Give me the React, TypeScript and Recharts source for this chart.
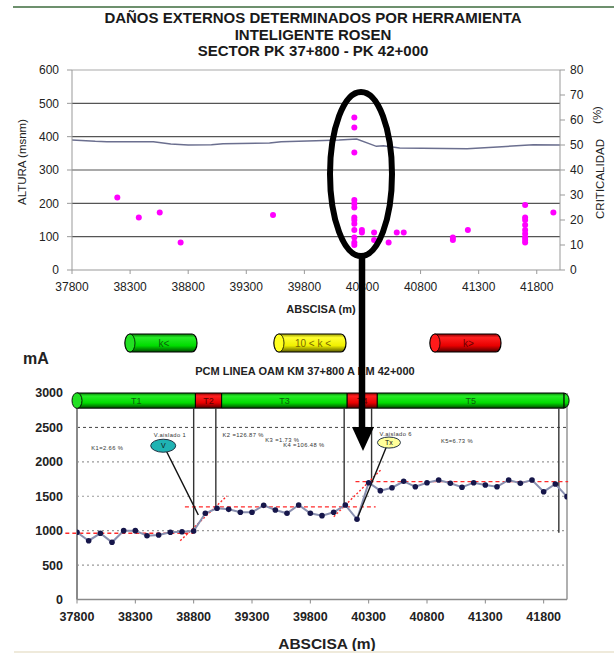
import React from 'react';
import {
  ComposedChart, LineChart, Line, Scatter, XAxis, YAxis,
  ReferenceLine, ReferenceArea, ReferenceDot,
} from 'recharts';

const FONT = '"Liberation Sans", Arial, Helvetica, sans-serif';

// ejes
const abscisaTicks = [37800, 38300, 38800, 39300, 39800, 40300, 40800, 41300, 41800];
const alturaTicks = [0, 100, 200, 300, 400, 500, 600];
const alturaGrid = [100, 200, 300, 400, 500];
const criticalidadTicks = [0, 10, 20, 30, 40, 50, 60, 70, 80];
const corrienteTicks = [0, 500, 1000, 1500, 2000, 2500, 3000];
const corrienteGrid = [500, 1000, 1500, 2000];

// perfil de altura (msnm)
const perfilAbscisa = [37800, 38000, 38100, 38500, 38650, 38800, 39000, 39100, 39500, 39600, 39900, 40100, 40250, 40420, 40480, 40620, 41200, 41500, 41770, 42000];
const perfilAltura = [390, 386, 385, 385, 378, 375, 376, 379, 381, 385, 388, 390, 393, 371, 373, 366, 364, 370, 376, 375];

// daños ROSEN (criticalidad %)
const danoAbscisa = [38190, 38375, 38555, 38735, 39530,
  40230, 40230, 40230, 40230, 40230, 40230, 40230, 40230, 40230, 40230, 40230, 40230, 40230,
  40295, 40295, 40400, 40400, 40525, 40595, 40655, 41078, 41078, 41207,
  41700, 41700, 41700, 41700, 41700, 41700, 41700, 41700, 41700, 41943];
const danoCriticalidad = [29, 21, 23, 11, 22,
  61, 57, 47, 28, 26.5, 25, 21, 20, 18.5, 16, 13, 11, 10,
  16, 15, 15, 12, 11, 15, 15, 13, 12, 16,
  26, 21, 20, 18, 16, 14.5, 13, 12, 11, 23];

// PCM (mA)
const pcmAbscisa = [37800, 37900, 38000, 38100, 38200, 38300, 38400, 38500, 38600, 38700, 38800, 38900, 39000, 39100, 39200, 39300, 39400, 39500, 39600, 39700, 39800, 39900, 40000, 40100, 40200, 40300, 40400, 40500, 40600, 40700, 40800, 40900, 41000, 41100, 41200, 41300, 41400, 41500, 41600, 41700, 41800, 41900, 42000];
const pcmCorriente = [976, 854, 962, 831, 1000, 1000, 927, 937, 976, 985, 995, 1252, 1325, 1310, 1267, 1267, 1368, 1300, 1252, 1373, 1252, 1218, 1267, 1373, 1165, 1697, 1581, 1624, 1717, 1639, 1697, 1736, 1688, 1630, 1697, 1663, 1639, 1736, 1688, 1736, 1566, 1678, 1494];

// tramos
const tramoLabel = ['T1', 'T2', 'T3', 'T4', 'T5'];
const tramoDesde = [37800, 38815, 39040, 40116, 40374];
const tramoHasta = [38815, 39040, 40116, 40374, 41975];
const tramoAlto = [false, true, false, true, false];
const barraBase = 2780;
const barraTope = 3000;

// cortes verticales
const corteAbscisa = [38800, 38990, 40090, 40325, 41930];
const corteHasta = [985, 1340, 1373, 1697, 970];

// tendencias
const tendDesdeX = [37700, 38685, 38725, 40001, 40187];
const tendDesdeY = [962, 854, 1345, 1203, 1712];
const tendHastaX = [38800, 39085, 40360, 40403, 42010];
const tendHastaY = [962, 1504, 1345, 1881, 1712];

// notas
const notaTexto = ['K1=2.66 %', 'V.aislado 1', 'K2 =126.87 %', 'K3 =1.73 %', 'K4 =106.48 %', 'V.aislado 6', 'K5=6.73 %'];
const notaAbscisa = [38060, 38597, 39225, 39560, 39745, 40532, 41057];
const notaCorriente = [2201, 2395, 2390, 2317, 2244, 2410, 2303];

// marcas
const marcaTexto = ['V', 'Tx'];
const marcaAbscisa = [38539, 40474];
const marcaCorriente = [2234, 2280];
const marcaColor = ['#1fb3b3', '#ffff9a'];
const punteroDesdeX = [38569, 40454];
const punteroDesdeY = [2147, 2225];
const punteroHastaX = [38840, 40208];
const punteroHastaY = [1228, 1203];

const perfil = perfilAbscisa.map((x, i) => ({ x, h: perfilAltura[i] }));
const danos = danoAbscisa.map((x, i) => ({ x, c: danoCriticalidad[i] }));
const pcm = pcmAbscisa.map((x, i) => ({ x, mA: pcmCorriente[i] }));

function Cylinder({ x, y, w, h, grad, cap, text, color }: any) {
  return (
    <g>
      <rect x={x} y={y} width={w} height={h} rx={5} ry={h / 2} fill={`url(#${grad})`} stroke="#000" strokeWidth={1.2} />
      <ellipse cx={x + 5} cy={y + h / 2} rx={5} ry={h / 2} fill={cap} stroke="#000" strokeWidth={0.8} />
      <text x={x + w / 2 + 3} y={y + h / 2 + 3.5} textAnchor="middle" fontSize={10} fill={color} fontFamily={FONT}>{text}</text>
    </g>
  );
}

export default function App() {
  const tickTop = { fontSize: 12, fill: '#222', fontFamily: FONT };
  const tickBot = { fontSize: 12.5, fill: '#222', fontFamily: FONT, fontWeight: 'bold' };
  return (
    <div style={{ position: 'absolute', left: 0, top: 0, width: 614, height: 653, background: '#fff', overflow: 'hidden' }}>
      <svg width={0} height={0} style={{ position: 'absolute' }}>
        <defs>
          <linearGradient id="gGreen" x1="0" y1="0" x2="0" y2="1">
            <stop offset="0" stopColor="#067a06" />
            <stop offset="0.2" stopColor="#27ec27" />
            <stop offset="0.65" stopColor="#00dc00" />
            <stop offset="1" stopColor="#004a00" />
          </linearGradient>
          <linearGradient id="gRed" x1="0" y1="0" x2="0" y2="1">
            <stop offset="0" stopColor="#8a0000" />
            <stop offset="0.2" stopColor="#ff2020" />
            <stop offset="0.65" stopColor="#e80000" />
            <stop offset="1" stopColor="#500000" />
          </linearGradient>
          <linearGradient id="gYellow" x1="0" y1="0" x2="0" y2="1">
            <stop offset="0" stopColor="#9a9a00" />
            <stop offset="0.2" stopColor="#ffff30" />
            <stop offset="0.65" stopColor="#f0f000" />
            <stop offset="1" stopColor="#5a5a00" />
          </linearGradient>
        </defs>
      </svg>

      <div style={{ position: 'absolute', left: 0, top: 0 }}>
        <ComposedChart width={614} height={320} margin={{ top: 70, right: 0, bottom: 0, left: 0 }}>
          <XAxis dataKey="x" type="number" domain={[37800, 42000]} ticks={abscisaTicks} interval={0}
            allowDataOverflow height={50} tick={tickTop} tickSize={4} tickMargin={8}
            axisLine={{ stroke: '#999' }} tickLine={{ stroke: '#999' }} />
          <YAxis yAxisId="left" domain={[0, 600]} ticks={alturaTicks} interval={0} width={72}
            tick={tickTop} tickSize={5} tickMargin={8} axisLine={{ stroke: '#999' }} tickLine={{ stroke: '#999' }} />
          <YAxis yAxisId="right" orientation="right" domain={[0, 80]} ticks={criticalidadTicks} interval={0} width={54}
            tick={tickTop} tickSize={5} tickMargin={5} axisLine={{ stroke: '#999' }} tickLine={{ stroke: '#999' }} />
          {alturaGrid.map((v) => (
            <ReferenceLine key={`g${v}`} yAxisId="left" y={v} stroke="#555" strokeWidth={1.2} />
          ))}
          <ReferenceLine yAxisId="left" y={600} stroke="#aaa" strokeWidth={1.2} />
          <Line yAxisId="left" data={perfil} dataKey="h" type="linear" stroke="#6b6f8f" strokeWidth={1.5}
            dot={false} isAnimationActive={false} />
          <Scatter yAxisId="right" data={danos} dataKey="c" isAnimationActive={false}
            shape={(p: any) => <circle cx={p.cx} cy={p.cy} r={3} fill="#ff00ff" />} />
        </ComposedChart>
      </div>

      <div style={{ position: 'absolute', left: 0, top: 380 }}>
        <LineChart width={614} height={273} data={pcm} margin={{ top: 13, right: 47, bottom: 0, left: 0 }}>
          <XAxis dataKey="x" type="number" domain={[37800, 42000]} ticks={abscisaTicks} interval={0}
            allowDataOverflow height={53.5} tick={tickBot} tickSize={4} tickMargin={9}
            axisLine={{ stroke: '#8a8a8a', strokeWidth: 1.5 }} tickLine={{ stroke: '#8a8a8a' }} />
          <YAxis domain={[0, 3000]} ticks={corrienteTicks} interval={0} width={77}
            tick={tickBot} tickSize={4} tickMargin={10}
            axisLine={{ stroke: '#8a8a8a', strokeWidth: 2 }} tickLine={false} />
          {corrienteGrid.map((v) => (
            <ReferenceLine key={`c${v}`} y={v} stroke="#9a9a9a" strokeWidth={1.2} strokeDasharray="2 3" />
          ))}
          <ReferenceLine y={2500} stroke="#444" strokeWidth={1} strokeDasharray="3 3" />
          <ReferenceLine x={42000} stroke="#b0b0b0" strokeWidth={2} />

          {corteAbscisa.map((x, i) => (
            <ReferenceLine key={`v${i}`} segment={[{ x, y: barraBase }, { x, y: corteHasta[i] }]}
              stroke="#333" strokeWidth={1.4} />
          ))}
          <ReferenceLine segment={[{ x: 37800, y: barraBase }, { x: 37800, y: 0 }]} stroke="#555" strokeWidth={1} />

          {tendDesdeX.map((x, i) => (
            <ReferenceLine key={`t${i}`} ifOverflow="visible"
              segment={[{ x, y: tendDesdeY[i] }, { x: tendHastaX[i], y: tendHastaY[i] }]}
              stroke="#ff2a2a" strokeWidth={1.4} strokeDasharray={i % 2 === 1 ? '2 2' : '4 3'} />
          ))}

          <Line dataKey="mA" type="linear" stroke="#8a90b0" strokeWidth={2} isAnimationActive={false}
            dot={(p: any) => <circle key={`d${p.index}`} cx={p.cx} cy={p.cy} r={2.8} fill="#16164a" />} />

          {punteroDesdeX.map((x, i) => (
            <ReferenceLine key={`p${i}`}
              segment={[{ x, y: punteroDesdeY[i] }, { x: punteroHastaX[i], y: punteroHastaY[i] }]}
              stroke="#111" strokeWidth={1.4} />
          ))}
          {marcaTexto.map((t, i) => (
            <ReferenceDot key={`m${i}`} x={marcaAbscisa[i]} y={marcaCorriente[i]}
              shape={(p: any) => (
                <g>
                  <ellipse cx={p.cx} cy={p.cy} rx={i === 0 ? 12.5 : 11.5} ry={i === 0 ? 6.5 : 5.5}
                    fill={marcaColor[i]} stroke="#234" strokeWidth={1} />
                  <text x={p.cx} y={p.cy + 2.5} textAnchor="middle" fontSize={7} fill="#111" fontFamily={FONT}>{t}</text>
                </g>
              )} />
          ))}
          {notaTexto.map((t, i) => (
            <ReferenceDot key={`n${i}`} x={notaAbscisa[i]} y={notaCorriente[i]}
              shape={(p: any) => (
                <text x={p.cx} y={p.cy + 2} textAnchor="middle" fontSize={5.8} letterSpacing={0.4}
                  fill="#333" fontFamily={FONT}>{t}</text>
              )} />
          ))}

          {tramoLabel.map((t, i) => (
            <ReferenceArea key={`b${i}`} x1={tramoDesde[i]} x2={tramoHasta[i]} y1={barraBase} y2={barraTope}
              ifOverflow="visible" fill={tramoAlto[i] ? 'url(#gRed)' : 'url(#gGreen)'} fillOpacity={1}
              stroke="#000" strokeWidth={1}
              label={{ value: t, position: 'center', fill: tramoAlto[i] ? '#5a0000' : '#0b5e0b', fontSize: 9, fontFamily: FONT }} />
          ))}
          <ReferenceDot x={tramoHasta[4]} y={(barraBase + barraTope) / 2} ifOverflow="visible"
            shape={(p: any) => (
              <path d={`M${p.cx},${p.cy - 7.5} A5,7.5 0 0 1 ${p.cx},${p.cy + 7.5} Z`} fill="url(#gGreen)" stroke="#000" strokeWidth={1} />
            )} />
          <ReferenceDot x={37800} y={(barraBase + barraTope) / 2} ifOverflow="visible"
            shape={(p: any) => (
              <ellipse cx={p.cx} cy={p.cy} rx={5} ry={7.8} fill="#22e022" stroke="#000" strokeWidth={0.9} />
            )} />
        </LineChart>
      </div>

      <svg width={614} height={653} style={{ position: 'absolute', left: 0, top: 0, pointerEvents: 'none' }}>
        <line x1={13} y1={7} x2={614} y2={7} stroke="#3d6b3d" strokeWidth={1.5} />
        <g fontFamily={FONT} fontWeight="bold" fontSize={15} fill="#1a1a1a" textAnchor="middle">
          <text x={313} y={23}>DAÑOS EXTERNOS DETERMINADOS POR HERRAMIENTA</text>
          <text x={313} y={40}>INTELIGENTE ROSEN</text>
          <text x={313} y={56}>SECTOR PK 37+800 - PK 42+000</text>
        </g>
        <text transform="translate(26,162) rotate(-90)" textAnchor="middle" fontSize={11.5} fill="#222" fontFamily={FONT}>ALTURA (msnm)</text>
        <text transform="translate(604,179) rotate(-90)" textAnchor="middle" fontSize={11.5} fill="#222" fontFamily={FONT}>CRITICALIDAD</text>
        <text transform="translate(601,115) rotate(-90)" textAnchor="middle" fontSize={11.5} fill="#222" fontFamily={FONT}>(%)</text>
        <text x={321} y={313} textAnchor="middle" fontSize={11} fontWeight="bold" fill="#222" fontFamily={FONT}>ABSCISA (m)</text>

        <Cylinder x={125} y={334} w={72} h={18} grad="gGreen" cap="#22e022" text="k<" color="#0b5e0b" />
        <Cylinder x={274} y={334} w={72} h={18} grad="gYellow" cap="#ffff20" text="10 < k <" color="#7a6a00" />
        <Cylinder x={430} y={334} w={71} h={18} grad="gRed" cap="#ff1a1a" text="k>" color="#6a0000" />

        <text x={23} y={364} fontSize={16} fontWeight="bold" fill="#222" fontFamily={FONT}>mA</text>
        <text x={305} y={375} textAnchor="middle" fontSize={11} fontWeight="bold" fill="#222" fontFamily={FONT}>PCM LINEA OAM KM 37+800 A KM 42+000</text>
        <text x={327} y={649} textAnchor="middle" fontSize={15.5} fontWeight="bold" fill="#222" fontFamily={FONT}>ABSCISA (m)</text>
        <rect x={14} y={651} width={600} height={2} fill="#efeadb" />

        <ellipse cx={361} cy={174} rx={31} ry={82} fill="none" stroke="#000" strokeWidth={6} />
        <line x1={362} y1={255} x2={362} y2={430} stroke="#000" strokeWidth={6.5} />
        <polygon points="352,427 374,427 363,451" fill="#000" />
      </svg>
    </div>
  );
}
